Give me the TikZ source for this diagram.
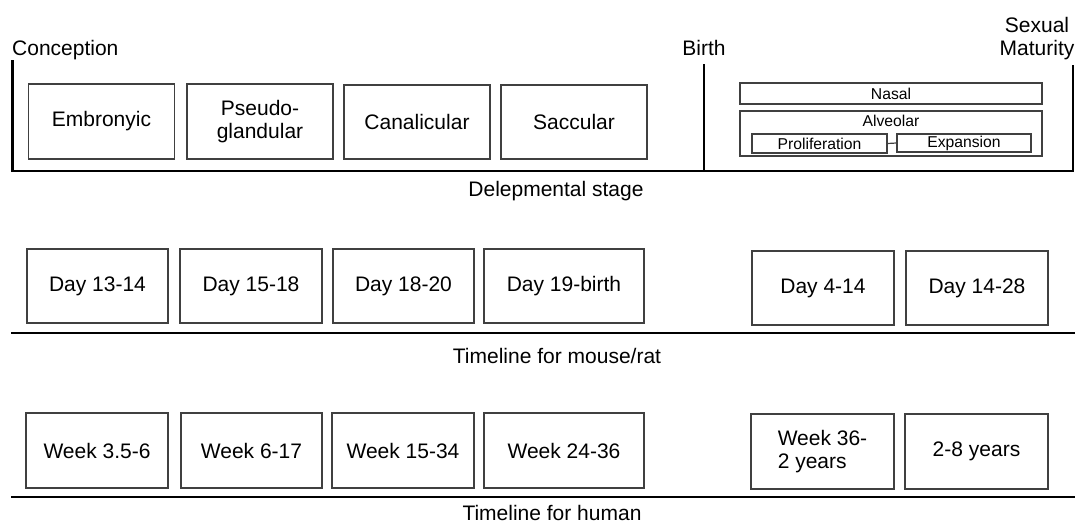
\documentclass[tikz,border=0pt]{standalone}
\usepackage{fontspec}
\setmainfont{Liberation Sans}
\begin{document}
\begin{tikzpicture}[x=1pt,y=-1pt,
  box/.style={draw=black!75,line width=1.3pt,inner sep=0pt,align=center,
    font=\fontsize{21}{23}\selectfont},
  sbox/.style={draw=black!75,line width=1.2pt,inner sep=0pt,
    font=\fontsize{15.7}{17}\selectfont},
  axis/.style={line width=2.8pt},
  lbl/.style={inner sep=0pt,font=\fontsize{21}{23}\selectfont},
  slbl/.style={inner sep=0pt,font=\fontsize{15.7}{17}\selectfont}]
\useasboundingbox (0,0) rectangle (1075,525);

% ---- top panel: developmental stage ----
\node[lbl,anchor=base west] (conc) at (12,55) {Conception};
\node[lbl,anchor=base] (birth) at (704,55) {Birth};
\node[lbl,align=center] (sexm) at (1037,39) {Sexual\\Maturity};

\coordinate (c1) at (12.5,60);
\coordinate (c2) at (12.5,171);
\coordinate (b1) at (704,64);
\coordinate (b2) at (704,171);
\coordinate (s1) at (1073,65);
\coordinate (s2) at (1073,171);
\draw[axis] (c1) -- (c2) -- (s2) -- (s1);
\draw[axis] (b1) -- (b2);

\node[box,minimum width=146pt,minimum height=75pt] (emb) at (101.5,121.5) {Embronyic};
\node[box,minimum width=146pt,minimum height=75pt] (pse) at (260,121.5) {Pseudo-\\glandular};
\node[box,minimum width=146pt,minimum height=74pt] (can) at (417,122) {Canalicular};
\node[box,minimum width=146pt,minimum height=74pt] (sac) at (574,122) {Saccular};

\node[sbox,minimum width=302pt,minimum height=21pt] (nas) at (891,93.5) {Nasal};
\node[sbox,minimum width=302pt,minimum height=45pt] (alv) at (891,133.5) {};
\node[slbl] (alvl) at (891,121) {Alveolar};
\node[sbox,minimum width=135pt,minimum height=19pt] (pro) at (819.5,143.5) {Proliferation};
\node[sbox,minimum width=134pt,minimum height=18pt] (exp) at (964,143) {Expansion};
\draw[line width=1.2pt,black!75] (pro.east) -- (exp.west);

\node[lbl,anchor=base] (dev) at (556,196) {Delepmental stage};

% ---- middle: mouse/rat ----
\node[box,minimum width=141pt,minimum height=74pt] (d1) at (97.5,286) {Day 13-14};
\node[box,minimum width=142pt,minimum height=74pt] (d2) at (251,286) {Day 15-18};
\node[box,minimum width=141pt,minimum height=74pt] (d3) at (403.5,286) {Day 18-20};
\node[box,minimum width=160pt,minimum height=74pt] (d4) at (564,286) {Day 19-birth};
\node[box,minimum width=142pt,minimum height=74pt] (d5) at (823,288) {Day 4-14};
\node[box,minimum width=142pt,minimum height=74pt] (d6) at (977,288) {Day 14-28};

\coordinate (m1) at (11,333);
\coordinate (m2) at (1075,333);
\draw[axis] (m1) -- (m2);
\node[lbl,anchor=base] (mr) at (557,363) {Timeline for mouse/rat};

% ---- bottom: human ----
\node[box,minimum width=142pt,minimum height=75pt] (w1) at (97,450.5) {Week 3.5-6};
\node[box,minimum width=141pt,minimum height=75pt] (w2) at (251.5,450.5) {Week 6-17};
\node[box,minimum width=142pt,minimum height=75pt] (w3) at (403,450.5) {Week 15-34};
\node[box,minimum width=160pt,minimum height=75pt] (w4) at (564,450.5) {Week 24-36};
\node[box,align=left,minimum width=143pt,minimum height=75pt] (w5) at (822.5,451.5) {Week 36-\\2 years};
\node[box,minimum width=143pt,minimum height=75pt] (w6) at (976.5,451.5) {2-8 years};

\coordinate (h1) at (11,497);
\coordinate (h2) at (1075,497);
\draw[axis] (h1) -- (h2);
\node[lbl,anchor=base] (hu) at (552,520) {Timeline for human};
\end{tikzpicture}
\end{document}
